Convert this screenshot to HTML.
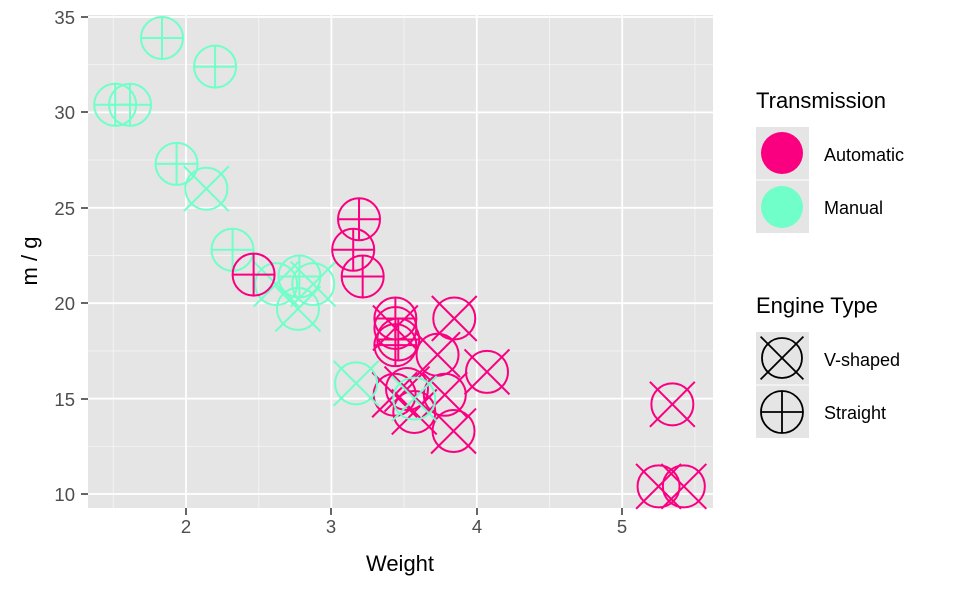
<!DOCTYPE html>
<html><head><meta charset="utf-8"><style>body{margin:0;background:#fff}svg{display:block;font-family:"Liberation Sans",Arial,sans-serif}</style></head>
<body>
<svg id="s" width="960" height="593" xmlns="http://www.w3.org/2000/svg">
<rect width="960" height="593" fill="#fff"/>
<rect x="88" y="15" width="625" height="493" fill="#e5e5e5"/>
<g id="grid"></g>
<g id="pts" fill="none" stroke-width="2"></g>
<g fill="#4d4d4d" font-size="18.5" text-anchor="end">
<text x="75" y="24">35</text><text x="75" y="119">30</text><text x="75" y="215">25</text><text x="75" y="310">20</text><text x="75" y="406">15</text><text x="75" y="501">10</text>
</g>
<g stroke="#333" stroke-width="1.5">
<line x1="81" x2="88" y1="17" y2="17"/><line x1="81" x2="88" y1="112" y2="112"/><line x1="81" x2="88" y1="208" y2="208"/><line x1="81" x2="88" y1="303" y2="303"/><line x1="81" x2="88" y1="399" y2="399"/><line x1="81" x2="88" y1="494" y2="494"/>
<line x1="186" x2="186" y1="508" y2="515"/><line x1="331" x2="331" y1="508" y2="515"/><line x1="477" x2="477" y1="508" y2="515"/><line x1="622" x2="622" y1="508" y2="515"/>
</g>
<g fill="#4d4d4d" font-size="18.5" text-anchor="middle">
<text x="186" y="533">2</text><text x="331" y="533">3</text><text x="477" y="533">4</text><text x="622" y="533">5</text>
</g>
<text x="400" y="571" font-size="22" text-anchor="middle">Weight</text>
<text transform="translate(37,261) rotate(-90)" font-size="22" text-anchor="middle">m / g</text>
<text x="756" y="108" font-size="22">Transmission</text>
<rect x="756" y="127" width="53" height="106" fill="#e5e5e5"/>
<line x1="756" x2="809" y1="180" y2="180" stroke="#fff" stroke-width="1"/>
<circle cx="782" cy="153" r="21" fill="#FA0080"/>
<circle cx="782" cy="207" r="21" fill="#70FFC8"/>
<text x="824" y="161" font-size="18">Automatic</text>
<text x="824" y="214" font-size="18">Manual</text>
<text x="756" y="313" font-size="22">Engine Type</text>
<rect x="756" y="332" width="53" height="106" fill="#e5e5e5"/>
<line x1="756" x2="809" y1="385" y2="385" stroke="#fff" stroke-width="1"/>
<g id="leg" fill="none" stroke="#000" stroke-width="1.8"></g>
<text x="824" y="366" font-size="18">V-shaped</text>
<text x="824" y="419" font-size="18">Straight</text>
</svg>
<script>
var NS="http://www.w3.org/2000/svg";
function X(v){return 186+(v-2)*145.4}
function Y(v){return 494-(v-10)*19.08}
function el(p,t,a){var e=document.createElementNS(NS,t);for(var k in a)e.setAttribute(k,a[k]);p.appendChild(e);return e}
var g=document.getElementById('grid');
[1.5,2.5,3.5,4.5,5.5].forEach(function(v){el(g,'line',{x1:X(v),x2:X(v),y1:15,y2:508,stroke:'#f4f4f4','stroke-width':0.9})});
[12.5,17.5,22.5,27.5,32.5].forEach(function(v){el(g,'line',{y1:Y(v),y2:Y(v),x1:88,x2:713,stroke:'#f4f4f4','stroke-width':0.9})});
[2,3,4,5].forEach(function(v){el(g,'line',{x1:X(v),x2:X(v),y1:15,y2:508,stroke:'#fff','stroke-width':1.8})});
[10,15,20,25,30,35].forEach(function(v){el(g,'line',{y1:Y(v),y2:Y(v),x1:88,x2:713,stroke:'#fff','stroke-width':1.8})});
function shape(p,cx,cy,r,vs,col){
 el(p,'circle',{cx:cx,cy:cy,r:r,stroke:col});
 if(vs==0){var d=r*1.07;el(p,'line',{x1:cx-d,y1:cy-d,x2:cx+d,y2:cy+d,stroke:col});el(p,'line',{x1:cx-d,y1:cy+d,x2:cx+d,y2:cy-d,stroke:col});}
 else{el(p,'line',{x1:cx-r,y1:cy,x2:cx+r,y2:cy,stroke:col});el(p,'line',{x1:cx,y1:cy-r,x2:cx,y2:cy+r,stroke:col});}
}
var d=[[2.620,21.0,1,0],[2.875,21.0,1,0],[2.320,22.8,1,1],[3.215,21.4,0,1],[3.440,18.7,0,0],[3.460,18.1,0,1],[3.570,14.3,0,0],[3.190,24.4,0,1],[3.150,22.8,0,1],[3.440,19.2,0,1],[3.440,17.8,0,1],[4.070,16.4,0,0],[3.730,17.3,0,0],[3.780,15.2,0,0],[5.250,10.4,0,0],[5.424,10.4,0,0],[5.345,14.7,0,0],[2.200,32.4,1,1],[1.615,30.4,1,1],[1.835,33.9,1,1],[2.465,21.5,0,1],[3.520,15.5,0,0],[3.435,15.2,0,0],[3.840,13.3,0,0],[3.845,19.2,0,0],[1.935,27.3,1,1],[2.140,26.0,1,0],[1.513,30.4,1,1],[3.170,15.8,1,0],[2.770,19.7,1,0],[3.570,15.0,1,0],[2.780,21.4,1,1]];
var p=document.getElementById('pts');
d.forEach(function(r){shape(p,X(r[0]),Y(r[1]),21,r[3],r[2]?'#70FFC8':'#FA0080')});
var l=document.getElementById('leg');
shape(l,782,358,20,0,'#000');shape(l,782,412,21,1,'#000');
</script>
</body></html>
